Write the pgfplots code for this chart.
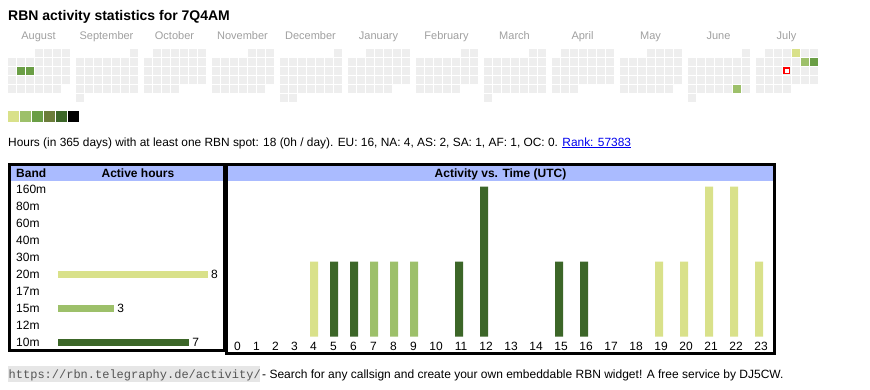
\documentclass[border=0pt]{standalone}
\usepackage{fontspec}
\setmainfont{Liberation Sans}
\setmonofont{Liberation Mono}
\usepackage{pgfplots}
\pgfplotsset{compat=1.18}
\usepackage{pgfplotstable}
\definecolor{cA}{HTML}{D9E18A}
\definecolor{cB}{HTML}{9DC06A}
\definecolor{cC}{HTML}{6A9E45}
\definecolor{cD}{HTML}{6B7D3A}
\definecolor{cE}{HTML}{3C6628}
\definecolor{calgray}{HTML}{EEEEEE}
\definecolor{hdrblue}{HTML}{AABBFF}
\definecolor{monthgray}{HTML}{A0A0A0}
\definecolor{linkblue}{HTML}{0000EE}
\definecolor{urlbg}{HTML}{E6E6E6}
\definecolor{urltext}{HTML}{555555}
\newcommand{\fs}{\fontsize{12}{14}\selectfont}
\newcommand{\fsm}{\fontsize{11}{13}\selectfont}

% calendar cells: month index (0 = August ... 11 = July), weekday column, week row
\pgfplotstableread[row sep=\\]{
m c r\\
0 3 0\\0 4 0\\0 5 0\\0 6 0\\
0 0 1\\0 1 1\\0 2 1\\0 3 1\\0 4 1\\0 5 1\\0 6 1\\
0 0 2\\0 1 2\\0 2 2\\0 3 2\\0 4 2\\0 5 2\\0 6 2\\
0 0 3\\0 1 3\\0 2 3\\0 3 3\\0 4 3\\0 5 3\\0 6 3\\
0 0 4\\0 1 4\\0 2 4\\0 3 4\\0 4 4\\0 5 4\\
1 6 0\\
1 0 1\\1 1 1\\1 2 1\\1 3 1\\1 4 1\\1 5 1\\1 6 1\\
1 0 2\\1 1 2\\1 2 2\\1 3 2\\1 4 2\\1 5 2\\1 6 2\\
1 0 3\\1 1 3\\1 2 3\\1 3 3\\1 4 3\\1 5 3\\1 6 3\\
1 0 4\\1 1 4\\1 2 4\\1 3 4\\1 4 4\\1 5 4\\1 6 4\\
1 0 5\\
2 1 0\\2 2 0\\2 3 0\\2 4 0\\2 5 0\\2 6 0\\
2 0 1\\2 1 1\\2 2 1\\2 3 1\\2 4 1\\2 5 1\\2 6 1\\
2 0 2\\2 1 2\\2 2 2\\2 3 2\\2 4 2\\2 5 2\\2 6 2\\
2 0 3\\2 1 3\\2 2 3\\2 3 3\\2 4 3\\2 5 3\\2 6 3\\
2 0 4\\2 1 4\\2 2 4\\2 3 4\\
3 4 0\\3 5 0\\3 6 0\\
3 0 1\\3 1 1\\3 2 1\\3 3 1\\3 4 1\\3 5 1\\3 6 1\\
3 0 2\\3 1 2\\3 2 2\\3 3 2\\3 4 2\\3 5 2\\3 6 2\\
3 0 3\\3 1 3\\3 2 3\\3 3 3\\3 4 3\\3 5 3\\3 6 3\\
3 0 4\\3 1 4\\3 2 4\\3 3 4\\3 4 4\\3 5 4\\
4 6 0\\
4 0 1\\4 1 1\\4 2 1\\4 3 1\\4 4 1\\4 5 1\\4 6 1\\
4 0 2\\4 1 2\\4 2 2\\4 3 2\\4 4 2\\4 5 2\\4 6 2\\
4 0 3\\4 1 3\\4 2 3\\4 3 3\\4 4 3\\4 5 3\\4 6 3\\
4 0 4\\4 1 4\\4 2 4\\4 3 4\\4 4 4\\4 5 4\\4 6 4\\
4 0 5\\4 1 5\\
5 2 0\\5 3 0\\5 4 0\\5 5 0\\5 6 0\\
5 0 1\\5 1 1\\5 2 1\\5 3 1\\5 4 1\\5 5 1\\5 6 1\\
5 0 2\\5 1 2\\5 2 2\\5 3 2\\5 4 2\\5 5 2\\5 6 2\\
5 0 3\\5 1 3\\5 2 3\\5 3 3\\5 4 3\\5 5 3\\5 6 3\\
5 0 4\\5 1 4\\5 2 4\\5 3 4\\5 4 4\\
6 5 0\\6 6 0\\
6 0 1\\6 1 1\\6 2 1\\6 3 1\\6 4 1\\6 5 1\\6 6 1\\
6 0 2\\6 1 2\\6 2 2\\6 3 2\\6 4 2\\6 5 2\\6 6 2\\
6 0 3\\6 1 3\\6 2 3\\6 3 3\\6 4 3\\6 5 3\\6 6 3\\
6 0 4\\6 1 4\\6 2 4\\6 3 4\\6 4 4\\
7 5 0\\7 6 0\\
7 0 1\\7 1 1\\7 2 1\\7 3 1\\7 4 1\\7 5 1\\7 6 1\\
7 0 2\\7 1 2\\7 2 2\\7 3 2\\7 4 2\\7 5 2\\7 6 2\\
7 0 3\\7 1 3\\7 2 3\\7 3 3\\7 4 3\\7 5 3\\7 6 3\\
7 0 4\\7 1 4\\7 2 4\\7 3 4\\7 4 4\\7 5 4\\7 6 4\\
7 0 5\\
8 1 0\\8 2 0\\8 3 0\\8 4 0\\8 5 0\\8 6 0\\
8 0 1\\8 1 1\\8 2 1\\8 3 1\\8 4 1\\8 5 1\\8 6 1\\
8 0 2\\8 1 2\\8 2 2\\8 3 2\\8 4 2\\8 5 2\\8 6 2\\
8 0 3\\8 1 3\\8 2 3\\8 3 3\\8 4 3\\8 5 3\\8 6 3\\
8 0 4\\8 1 4\\8 2 4\\
9 3 0\\9 4 0\\9 5 0\\9 6 0\\
9 0 1\\9 1 1\\9 2 1\\9 3 1\\9 4 1\\9 5 1\\9 6 1\\
9 0 2\\9 1 2\\9 2 2\\9 3 2\\9 4 2\\9 5 2\\9 6 2\\
9 0 3\\9 1 3\\9 2 3\\9 3 3\\9 4 3\\9 5 3\\9 6 3\\
9 0 4\\9 1 4\\9 2 4\\9 3 4\\9 4 4\\9 5 4\\
10 6 0\\
10 0 1\\10 1 1\\10 2 1\\10 3 1\\10 4 1\\10 5 1\\10 6 1\\
10 0 2\\10 1 2\\10 2 2\\10 3 2\\10 4 2\\10 5 2\\10 6 2\\
10 0 3\\10 1 3\\10 2 3\\10 3 3\\10 4 3\\10 5 3\\10 6 3\\
10 0 4\\10 1 4\\10 2 4\\10 3 4\\10 4 4\\10 5 4\\10 6 4\\
10 0 5\\
11 1 0\\11 2 0\\11 3 0\\11 4 0\\11 5 0\\11 6 0\\
11 0 1\\11 1 1\\11 2 1\\11 3 1\\11 4 1\\11 5 1\\11 6 1\\
11 0 2\\11 1 2\\11 2 2\\11 3 2\\11 4 2\\11 5 2\\11 6 2\\
11 0 3\\11 1 3\\11 2 3\\11 3 3\\11 4 3\\11 5 3\\11 6 3\\
11 0 4\\11 1 4\\11 2 4\\11 3 4\\
}\calgrid

\pgfplotstableread[row sep=\\]{m c r\\ 11 4 0\\}\calA
\pgfplotstableread[row sep=\\]{m c r\\ 10 5 4\\ 11 5 1\\}\calB
\pgfplotstableread[row sep=\\]{m c r\\ 0 1 2\\ 0 2 2\\ 11 6 1\\}\calC
\pgfplotstableread[row sep=\\]{m c r\\ 11 3 2\\}\caltoday

\pgfplotsset{calcell/.style={
  only marks, mark=square*, mark size=3.3pt, color=#1,
  mark options={solid, draw=#1, fill=#1, line width=0.4pt}},
  scalecell/.style={
  only marks, mark=square*, mark size=4.8pt, color=#1,
  mark options={solid, draw=#1, fill=#1, line width=0.4pt}}}
\newcommand{\calX}{8+68*\thisrow{m}+9*\thisrow{c}+3.5}
\newcommand{\calY}{52.5+9*\thisrow{r}}

\begin{document}
\begin{tikzpicture}
\fill[white] (0pt,0pt) rectangle (870pt,-390pt);
\useasboundingbox (0pt,0pt) rectangle (870pt,-390pt);

% ---------- canvas in pixel coordinates ----------
\begin{axis}[at={(0pt,0pt)}, anchor=north west, scale only axis,
  width=870pt, height=390pt, xmin=0, xmax=870, ymin=0, ymax=390,
  y dir=reverse, hide axis, clip=false]

\node[anchor=base west, inner sep=0pt, font=\fontsize{14}{16}\selectfont\bfseries]
  at (axis cs:8,20.5) {RBN activity statistics for 7Q4AM};

\begin{scope}[every node/.style={anchor=base, inner sep=0pt, text=monthgray, font=\fsm}]
\node at (axis cs:38.5,39) {August};
\node at (axis cs:106.5,39) {September};
\node at (axis cs:174.5,39) {October};
\node at (axis cs:242.5,39) {November};
\node at (axis cs:310.5,39) {December};
\node at (axis cs:378.5,39) {January};
\node at (axis cs:446.5,39) {February};
\node at (axis cs:514.5,39) {March};
\node at (axis cs:582.5,39) {April};
\node at (axis cs:650.5,39) {May};
\node at (axis cs:718.5,39) {June};
\node at (axis cs:786.5,39) {July};
\end{scope}

\addplot[calcell=calgray] table[x expr={\calX}, y expr={\calY}] {\calgrid};
\addplot[calcell=cA] table[x expr={\calX}, y expr={\calY}] {\calA};
\addplot[calcell=cB] table[x expr={\calX}, y expr={\calY}] {\calB};
\addplot[calcell=cC] table[x expr={\calX}, y expr={\calY}] {\calC};
\addplot[only marks, mark=square*, mark size=2.75pt, color=red,
  mark options={solid, draw=red, fill=white, line width=1.5pt}] table[x expr={\calX}, y expr={\calY}] {\caltoday};

% colour scale
\addplot[scalecell=cA] coordinates {(13,116)};
\addplot[scalecell=cB] coordinates {(25,116)};
\addplot[scalecell=cC] coordinates {(37,116)};
\addplot[scalecell=cD] coordinates {(49,116)};
\addplot[scalecell=cE] coordinates {(61,116)};
\addplot[scalecell=black] coordinates {(73,116)};

\node[anchor=base west, inner sep=0pt, font=\fontsize{11.9}{14}\selectfont] at (axis cs:8,146)
  {Hours (in 365 days) with at least one RBN spot: 18 (0h / day). EU: 16, NA: 4, AS: 2, SA: 1, AF: 1, OC: 0. \textcolor{linkblue}{\underline{Rank: 57383}}};

% boxes
\fill[hdrblue] (axis cs:11,166) rectangle (axis cs:223,181);
\fill[hdrblue] (axis cs:228,166) rectangle (axis cs:773,181);
\draw[line width=3pt] (axis cs:9.5,164.5) rectangle (axis cs:224,350.5);
\draw[line width=3pt] (axis cs:226.5,164.5) rectangle (axis cs:774.5,353.5);
\node[anchor=base west, inner sep=0pt, font=\fs\bfseries] at (axis cs:16,177.7) {Band};
\node[anchor=base, inner sep=0pt, font=\fs\bfseries] at (axis cs:138,177.7) {Active hours};
\node[anchor=base, inner sep=0pt, font=\fs\bfseries] at (axis cs:500.5,177.7) {Activity vs. Time (UTC)};

% footer
\fill[urlbg] (axis cs:8,366) rectangle (axis cs:260,382);
\node[anchor=base west, inner sep=0pt, font=\fontsize{12}{14}\selectfont\ttfamily, text=urltext]
  at (axis cs:8.5,378) {https://rbn.telegraphy.de/activity/};
\node[anchor=base west, inner sep=0pt, font=\fs] at (axis cs:262,378)
  {- Search for any callsign and create your own embeddable RBN widget! A free service by DJ5CW.};
\end{axis}

% ---------- active hours per band ----------
\begin{axis}[at={(58pt,-181.3pt)}, anchor=north west, scale only axis,
  width=150pt, height=169.3pt, xmin=0, xmax=8, ymin=-0.5, ymax=9.5,
  y dir=reverse, clip=false,
  axis line style={draw=none}, tick style={draw=none}, xtick=\empty,
  ytick={0,...,9},
  yticklabels={160m,80m,60m,40m,30m,20m,17m,15m,12m,10m},
  yticklabel style={anchor=base west, xshift=-42pt, yshift=-4pt, inner sep=0pt, font=\fs},
  /pgf/number format/assume math mode=true,
  every node near coord/.append style={anchor=west, inner sep=0pt, xshift=3pt, font=\fs}]
\addplot[xbar, bar width=7pt, bar shift=0pt, fill=cA, draw=none, nodes near coords] coordinates {(8,5)};
\addplot[xbar, bar width=7pt, bar shift=0pt, fill=cB, draw=none, nodes near coords] coordinates {(3,7)};
\addplot[xbar, bar width=7pt, bar shift=0pt, fill=cE, draw=none, nodes near coords] coordinates {(7,9)};
\end{axis}

% ---------- activity vs time ----------
\begin{axis}[at={(0pt,-336.7pt)}, anchor=south west, scale only axis,
  width=870pt, height=150pt, xmin=0, xmax=870, ymin=0, ymax=2, clip=false,
  axis line style={draw=none}, tick style={draw=none}, ytick=\empty,
  xtick={237.5,256.5,275.5,294.5,313.5,333.5,353.5,373.5,393.5,413.5,436,461,486,511,536,561,586,611,636,661,686,711,736,761},
  xticklabels={0,1,2,3,4,5,6,7,8,9,10,11,12,13,14,15,16,17,18,19,20,21,22,23},
  xticklabel style={anchor=base, yshift=-13.3pt, inner sep=0pt, font=\fs}]
% columns: hour, horizontal position of the hour's column, active hours
\addplot[ybar, bar width=8pt, bar shift=0pt, fill=cE, draw=none] table[x=pos, y=n, row sep=\\]
  {hour pos n\\ 5 334 1\\ 6 354 1\\ 11 459 1\\ 12 484 2\\ 15 559 1\\ 16 584 1\\};
\addplot[ybar, bar width=8pt, bar shift=0pt, fill=cB, draw=none] table[x=pos, y=n, row sep=\\]
  {hour pos n\\ 7 374 1\\ 8 394 1\\ 9 414 1\\};
\addplot[ybar, bar width=8pt, bar shift=0pt, fill=cA, draw=none] table[x=pos, y=n, row sep=\\]
  {hour pos n\\ 4 314 1\\ 19 659 1\\ 20 684 1\\ 21 709 2\\ 22 734 2\\ 23 759 1\\};
\end{axis}
\end{tikzpicture}
\end{document}
